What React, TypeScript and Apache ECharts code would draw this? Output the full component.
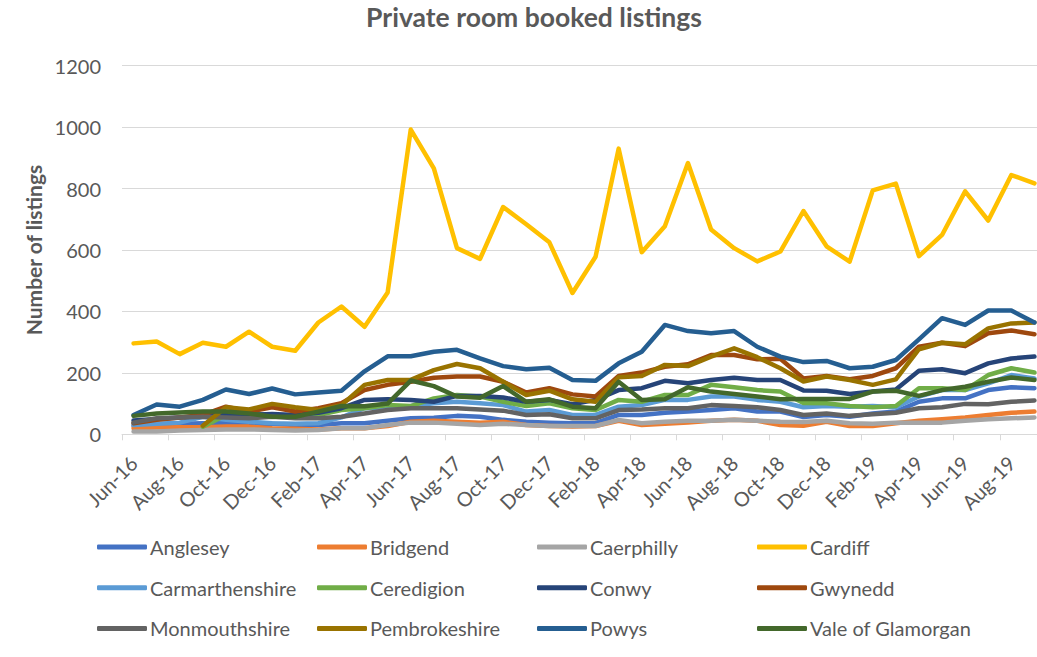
import React, { useEffect, useRef } from "react";
import * as echarts from "echarts";

const months = [
  "Jun-16","Jul-16","Aug-16","Sep-16","Oct-16","Nov-16","Dec-16",
  "Jan-17","Feb-17","Mar-17","Apr-17","May-17","Jun-17","Jul-17","Aug-17","Sep-17","Oct-17","Nov-17","Dec-17",
  "Jan-18","Feb-18","Mar-18","Apr-18","May-18","Jun-18","Jul-18","Aug-18","Sep-18","Oct-18","Nov-18","Dec-18",
  "Jan-19","Feb-19","Mar-19","Apr-19","May-19","Jun-19","Jul-19","Aug-19","Sep-19",
];

const anglesey = [27,30,34,36,36,34,34,30,30,36, 36,44,52,54,60,57,47,41,38,36, 36,63,63,70,74,79,85,74,74,56, 63,57,68,74,106,117,117,144,153,150];
const bridgend = [20,22,23,23,25,25,20,18,16,20, 20,27,41,44,41,38,41,30,27,25, 27,44,30,34,38,44,47,44,30,28, 41,27,27,36,44,49,55,63,70,74];
const caerphilly = [9,9,12,14,16,16,14,12,14,20, 20,30,38,38,34,30,34,30,27,27, 27,47,36,41,44,44,47,44,41,40, 44,36,34,38,38,38,44,49,52,55];
const cardiff = [296,302,261,298,285,334,285,272,364,416, 350,462,992,866,606,571,740,684,625,460, 578,930,593,677,883,667,606,563,595,727, 612,562,794,816,580,649,791,696,844,817];
const carmarthenshire = [30,34,38,57,47,41,36,34,36,55, 85,88,92,101,106,101,95,74,79,63, 63,90,95,112,112,123,123,112,106,88, 92,90,92,88,123,144,144,166,193,182];
const ceredigion = [null,null,null,25,63,68,63,57,63,79, 85,95,92,117,128,123,106,92,101,85, 79,112,106,128,128,161,153,144,139,102, 101,92,88,92,150,150,144,193,215,201];
const conwy = [45,50,55,60,68,63,66,63,70,85, 112,114,112,106,125,125,120,106,112,98, 112,144,150,174,166,177,184,177,177,143, 142,131,139,146,207,212,199,231,247,253];
const gwynedd = [36,47,55,63,90,74,88,74,85,101, 144,161,171,184,188,188,171,136,150,130, 123,190,201,220,228,258,258,244,246,182, 190,179,190,215,285,298,287,329,338,326];
const monmouthshire = [38,52,55,57,55,52,57,52,52,57, 68,79,85,85,85,81,77,63,65,52, 52,79,81,85,85,95,92,88,79,63, 68,60,65,70,85,88,99,98,106,110];
const pembrokeshire = [null,null,null,28,88,81,99,88,79,95, 161,177,177,209,229,215,171,128,142,114, 106,186,190,226,222,253,280,251,215,172, 188,177,161,179,277,298,293,345,361,364];
const powys = [63,97,90,112,146,131,149,130,136,142, 205,254,254,269,275,247,222,212,217,177, 174,231,269,356,336,329,336,285,253,235, 239,215,220,242,309,378,356,403,403,364];
const valeOfGlamorgan = [60,68,71,74,74,68,57,57,74,92, 91,100,175,157,123,119,157,106,114,90, 85,171,112,114,153,139,131,123,114,115, 115,115,139,142,125,144,155,171,185,177];

const seriesNames = [
  "Anglesey","Bridgend","Caerphilly","Cardiff",
  "Carmarthenshire","Ceredigion","Conwy","Gwynedd",
  "Monmouthshire","Pembrokeshire","Powys","Vale of Glamorgan",
];
const seriesData = [
  anglesey, bridgend, caerphilly, cardiff,
  carmarthenshire, ceredigion, conwy, gwynedd,
  monmouthshire, pembrokeshire, powys, valeOfGlamorgan,
];
const colors = [
  "#4472C4","#ED7D31","#A5A5A5","#FFC000",
  "#5B9BD5","#70AD47","#264478","#9E480E",
  "#636363","#997300","#255E91","#43682B",
];

const yTicks = { min: 0, max: 1200, interval: 200 };

const FONT = "Lato, 'Open Sans', sans-serif";
const TEXT = "#595959";

export default function App() {
  const ref = useRef<HTMLDivElement>(null);
  useEffect(() => {
    if (!ref.current) return;
    const chart = echarts.init(ref.current, undefined, { renderer: "svg" });
    const legends = seriesNames.map((name, k) => ({
      data: [name],
      left: 97 + 220 * (k % 4),
      top: 536 + 40.7 * Math.floor(k / 4),
      padding: 0,
      icon: "roundRect",
      itemWidth: 50,
      itemHeight: 5,
      selectedMode: false,
      textStyle: { color: TEXT, fontSize: 20, fontFamily: FONT, lineHeight: 22, padding: [0, 0, 0, -2] },
    }));
    chart.setOption({
      animation: false,
      backgroundColor: "#ffffff",
      color: colors,
      textStyle: { fontFamily: FONT },
      title: {
        text: "Private room booked listings",
        left: 534,
        top: 3,
        padding: 0,
        textAlign: "center",
        textStyle: { color: TEXT, fontSize: 26.5, fontWeight: "bold", fontFamily: FONT },
      },
      legend: legends,
      grid: { left: 122, top: 65.7, right: 0, bottom: 222.7, containLabel: false },
      xAxis: {
        type: "category",
        data: months,
        boundaryGap: true,
        axisLine: { lineStyle: { color: "#D9D9D9", width: 1 } },
        axisTick: { show: true, interval: 1, length: 6, lineStyle: { color: "#D9D9D9" } },
        axisLabel: {
          interval: 1,
          rotate: 45,
          margin: 25,
          align: "right",
          verticalAlign: "middle",
          color: TEXT,
          fontSize: 20,
          fontFamily: FONT,
        },
        splitLine: { show: false },
      },
      yAxis: {
        type: "value",
        min: yTicks.min,
        max: yTicks.max,
        interval: yTicks.interval,
        name: "Number of listings",
        nameLocation: "middle",
        nameGap: 70,
        nameTextStyle: { color: TEXT, fontSize: 21, fontWeight: "bold", fontFamily: FONT },
        axisLine: { show: false },
        axisTick: { show: false },
        axisLabel: { color: TEXT, fontSize: 20, fontFamily: FONT, margin: 21, formatter: (v: number) => String(v) },
        splitLine: { lineStyle: { color: "#D9D9D9", width: 1 } },
      },
      series: seriesNames.map((name, k) => ({
        name,
        type: "line",
        data: seriesData[k],
        symbol: "none",
        connectNulls: false,
        lineStyle: { width: 4.5, color: colors[k], cap: "round", join: "round" },
        itemStyle: { color: colors[k] },
      })),
    });
    return () => chart.dispose();
  }, []);
  return (
    <div style={{ position: "fixed", left: 0, top: 0, width: 1037, height: 657, overflow: "hidden", background: "#fff" }}>
      <div ref={ref} style={{ width: 1046, height: 657 }} />
    </div>
  );
}
